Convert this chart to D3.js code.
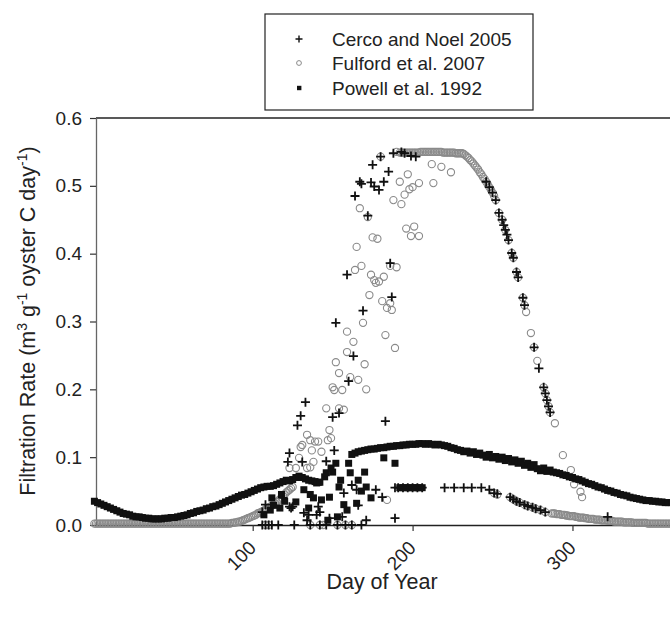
<!DOCTYPE html>
<html lang="en">
  <head>
    <meta charset="UTF-8" />
    <title>Filtration Rate</title>
    <style>
      body {
        margin: 0;
        overflow: hidden;
        background: #fff;
      }
      text {
        font-family: "Liberation Sans", Arial, sans-serif;
        fill: #222;
      }
      .tick text {
        font-size: 19px;
      }
    </style>
    <script src="https://unpkg.com/d3@7.8.1/dist/d3.min.js"></script>
  </head>
  <body>
    <script>
      const { select, scaleLinear, axisLeft, axisBottom, format } = d3;

//Data  [day of year, filtration rate]
      const seriesNames = ["Cerco and Noel 2005", "Fulford et al. 2007", "Powell et al. 1992"];

      const cercoPoints = [
        [106,.019],[106,0],[108,.030],[108,0],[110,0],[112,0],[116,0],[119,.040],[122,.093],[123,.106],
        [123,.027],[124,.025],[125,.027],[126,0],[128,.147],[130,.161],[131,.093],[132,.018],[133,.181],
        [134,.007],[135,.015],[136,0],[140,.015],[141,.027],[142,.019],[142,0],[146,.094],[146,0],[148,.010],
        [150,.159],[151,.110],[152,.298],[153,0],[154,.165],[156,.012],[157,.047],[158,0],[159,.369],
        [160,.212],[162,.059],[162,0],[163,.249],[164,.485],[165,.052],[166,.029],[167,.506],[168,.503],
        [168,0],[169,.316],[171,.007],[172,.456],[174,.505],[175,.531],[176,.499],[177,.052],[179,.494],
        [180,.543],[181,.041],[182,.506],[183,.153],[185,.521],[186,.386],[187,.336],[188,.548],[189,.010],
        [189,.055],[191,.055],[193,.550],[194,.055],[195,.548],[197,.055],[199,.544],[200,.055],[202,.543],
        [203,.055],[206,.055],[220,.055],[226,.055],[232,.055],[237,.055],[243,.055],
        [246,.506],[248,.498],[248,.052],[250,.490],[251,.047],[252,.479],[253,.046],[254,.460],[256,.450],
        [257,.442],[258,.435],[259,.428],[260,.420],[261,.041],[262,.401],[263,.394],[263,.038],[265,.373],
        [265,.035],[266,.365],[267,.033],[269,.335],[270,.324],[270,.030],[272,.028],[275,.026],[276,.262],
        [277,.024],[279,.231],[280,.022],[282,.203],[283,.194],[283,.019],[284,.184],[285,.175],[286,.166],
        [322,.012]
      ];

      const fulfordCurve = [
        [1,.002],[2,.002],[3,.002],[4,.002],[5,.002],[6,.002],[7,.002],[8,.002],[9,.002],[10,.002],
        [11,.002],[12,.002],[13,.002],[14,.002],[15,.002],[16,.002],[17,.002],[18,.002],[19,.002],[20,.002],
        [21,.002],[22,.002],[23,.002],[24,.002],[25,.002],[26,.002],[27,.002],[28,.002],[29,.002],[30,.002],
        [31,.002],[32,.002],[33,.002],[34,.002],[35,.002],[36,.002],[37,.002],[38,.002],[39,.002],[40,.002],
        [41,.002],[42,.002],[43,.002],[44,.002],[45,.002],[46,.002],[47,.002],[48,.002],[49,.002],[50,.002],
        [51,.002],[52,.002],[53,.002],[54,.002],[55,.002],[56,.002],[57,.002],[58,.002],[59,.002],[60,.002],
        [61,.002],[62,.002],[63,.002],[64,.002],[65,.002],[66,.002],[67,.002],[68,.002],[69,.002],[70,.002],
        [71,.002],[72,.002],[73,.002],[74,.002],[75,.002],[76,.002],[77,.002],[78,.002],[79,.002],[80,.002],
        [81,.002],[82,.002],[83,.002],[84,.002],[85,.002],[86,.002],[87,.003],[88,.003],[89,.004],[90,.004],
        [91,.005],[92,.005],[93,.006],[94,.007],[95,.008],[96,.009],[97,.010],[98,.011],[99,.012],[100,.013],
        [101,.014],[102,.015],[103,.017],[104,.018],[105,.019],[106,.020],[107,.021],[108,.023],[109,.024],
        [110,.026],[111,.027],[112,.029],[113,.030],[114,.032],[115,.034],[116,.036],[117,.038],[118,.040],
        [119,.043],[120,.045],[121,.048],[122,.050],[123,.052],[124,.054],[125,.056],
        [192,.549],[193,.549],[194,.549],[195,.549],[196,.549],[197,.549],[198,.549],[199,.549],[200,.549],
        [201,.549],[202,.549],[203,.549],[204,.549],[205,.550],[206,.550],[207,.550],[208,.550],[209,.550],
        [210,.550],[211,.550],[212,.550],[213,.550],[214,.550],[215,.550],[216,.550],[217,.550],[218,.550],
        [219,.549],[220,.549],[221,.549],[222,.549],[223,.549],[224,.549],[225,.549],[226,.549],[227,.548],
        [228,.548],[229,.548],[230,.548],[231,.548],[232,.547],[233,.545],[234,.543],[235,.541],[236,.538],
        [237,.536],[238,.533],[239,.530],[240,.527],[241,.524],[242,.520],[243,.517],[244,.513],[245,.510],
        [246,.506],[247,.502],[248,.498],[249,.494],[250,.490],[251,.485],[252,.479],[254,.460],[256,.450],
        [258,.435],[260,.420],[262,.401],[263,.394],[265,.373],[266,.365],[269,.335],[270,.324],[271,.314],
        [274,.283],[276,.262],[278,.242],[282,.203],[283,.194],[284,.184],[285,.175],[286,.166],[289,.150],
        [294,.103],[299,.081],[301,.060],[305,.049],[306,.041],
        [251,.047],[253,.045],[261,.041],[263,.038],[265,.035],[267,.033],[270,.030],[272,.028],[275,.026],
        [277,.024],[280,.022],[283,.019],
        [287,.017],[288,.017],[289,.017],[290,.016],[291,.016],[292,.016],[293,.015],[294,.015],[295,.015],
        [296,.014],[297,.014],[298,.013],[299,.013],[300,.013],[301,.013],[302,.012],[303,.012],[304,.011],
        [305,.011],[306,.011],[307,.011],[308,.010],[309,.010],[310,.009],[311,.009],[312,.009],[313,.009],
        [314,.008],[315,.008],[316,.008],[317,.008],[318,.007],[319,.007],[320,.007],[321,.007],[322,.006],
        [323,.006],[324,.006],[325,.006],[326,.005],[327,.005],[328,.005],[329,.005],[330,.005],[331,.005],
        [332,.004],[333,.004],[334,.004],[335,.004],[336,.004],[337,.004],[338,.003],[339,.003],[340,.003],
        [341,.003],[342,.003],[343,.003],[344,.003],[345,.003],[346,.003],[347,.002],[348,.002],[349,.002],
        [350,.002],[351,.002],[352,.002],[353,.002],[354,.002],[355,.002],[356,.002],[357,.002],[358,.002],
        [359,.002],[360,.002],[361,.002],[362,.002],[363,.002],[364,.002],[365,.002]
      ];

      const fulfordScatter = [
        [108,0],[110,0],[136,0],[142,0],[144,0],[153,0],[158,0],[162,0],
        [123,.084],[127,.084],[129,.099],[130,.115],[131,.118],[134,.133],[134,.084],[136,.085],[136,.125],
        [137,.110],[138,.093],[139,.123],[141,.123],[143,.108],[147,.125],[148,.140],[149,.128],
        [146,.172],[150,.203],[151,.199],[154,.172],[156,.199],[157,.170],[171,.200],
        [152,.240],[154,.224],[159,.255],[159,.285],[161,.218],[163,.270],[166,.214],[169,.298],[170,.237],
        [183,.280],[189,.261],
        [164,.376],[168,.382],[173,.339],[174,.369],[176,.361],[177,.357],[179,.359],[182,.366],[181,.330],
        [186,.327],[184,.320],[187,.317],[186,.382],[190,.380],
        [165,.410],[175,.424],[178,.422],[167,.467],[172,.454],[188,.479],[193,.473],[196,.437],[199,.426],
        [201,.440],[204,.426],
        [180,.543],[190,.550],[192,.506],[197,.517],[195,.487],[198,.495],[200,.498],[204,.504],
        [213,.504],[212,.532],[218,.528],[224,.520],[184,.037]
      ];

      const powellCurve = [
        [1,.035],[3,.033],[5,.031],[7,.029],[9,.027],[11,.025],[13,.023],[15,.021],[17,.019],[19,.017],
        [21,.016],[23,.015],[25,.013],[27,.012],[29,.012],[31,.011],[33,.010],[35,.010],[37,.009],[39,.009],
        [41,.009],[43,.009],[45,.010],[47,.010],[49,.011],[51,.011],[53,.012],[55,.013],[57,.014],[59,.015],
        [61,.017],[63,.018],[65,.020],[67,.021],[69,.022],[71,.024],[73,.025],[75,.027],[77,.028],[79,.030],
        [81,.032],[83,.034],[85,.036],[87,.038],[89,.040],[91,.042],[93,.044],[95,.045],[97,.047],[99,.049],
        [101,.051],[103,.053],[105,.055],[107,.056],[109,.057],[111,.057],[113,.058],[115,.060],[117,.062],
        [119,.064],[121,.066],[123,.065],[125,.067],[127,.070],[129,.072],[131,.070],[133,.068],[135,.066],
        [137,.065],[139,.064],[141,.063],
        [162,.104],[164,.106],[166,.108],[168,.109],[170,.110],[172,.111],[174,.112],[176,.112],[178,.113],
        [180,.114],[182,.114],[184,.115],[186,.116],[188,.116],[190,.117],[192,.117],[194,.118],[196,.118],
        [198,.119],[200,.119],[202,.119],[204,.120],[206,.120],[208,.119],[210,.120],[212,.119],[214,.118],
        [216,.119],[218,.118],[220,.117],[222,.116],[224,.114],[226,.113],[228,.111],[230,.110],[232,.108],
        [234,.109],[236,.106],[238,.108],[240,.104],[242,.106],[244,.103],[246,.100],[248,.104],[250,.099],
        [252,.101],[254,.097],[256,.100],[258,.095],[260,.098],[262,.093],[264,.096],[266,.091],[268,.094],
        [270,.088],[272,.091],[274,.085],[276,.089],[278,.083],[280,.080],[282,.084],[284,.079],[286,.081],
        [288,.078],[290,.077],[292,.076],[294,.074],[296,.073],[298,.071],[300,.070],[302,.068],[304,.067],
        [306,.065],[308,.063],[310,.061],[312,.060],[314,.058],[316,.056],[318,.055],[320,.053],[322,.051],
        [324,.050],[326,.048],[328,.047],[330,.045],[332,.044],[334,.043],[336,.041],[338,.040],[340,.039],
        [342,.038],[344,.037],[346,.036],[348,.036],[350,.035],[352,.035],[354,.034],[356,.034],[358,.033],
        [360,.033],[362,.033],[364,.033]
      ];

      const powellScatter = [
        [107,.015],[111,.022],[112,.040],[113,.029],[117,.025],[118,.045],[120,.035],[127,.034],[132,.052],
        [135,.025],[136,.045],[138,.040],[140,.062],[142,.063],[143,.037],[145,.071],[146,.077],[147,.007],
        [148,.041],[149,.084],[150,.078],[152,.091],[153,.012],[154,.056],[155,.066],[157,.030],[159,.022],
        [160,.091],[161,.077],[165,.032],[166,.066],[168,.050],[170,.078],[171,.056],[174,.040],[182,.099],
        [189,.091],[192,.055],[194,.055],[196,.055],[198,.055],[200,.055],[202,.055],[204,.055],[206,.055]
      ];

      const yTicks = [0, 0.1, 0.2, 0.3, 0.4, 0.5, 0.6];
      const xTicks = [100, 200, 300];

//Layout
      const width = 670;
      const height = 617;
      const frame = { left: 96, right: 678, top: 118, bottom: 525 };

      const svg = select("body")
        .append("svg")
        .attr("width", width)
        .attr("height", height);

      const x = scaleLinear().domain([2, 366]).range([frame.left, frame.right]);
      const y = scaleLinear().domain([0, 0.6]).range([frame.bottom, frame.top]);

      // top frame line
      svg.append("line")
        .attr("x1", frame.left).attr("x2", frame.right)
        .attr("y1", frame.top).attr("y2", frame.top)
        .attr("stroke", "#222").attr("stroke-width", 1.3);

      const yAxis = svg.append("g")
        .attr("transform", `translate(${frame.left},0)`)
        .call(axisLeft(y).tickValues(yTicks).tickFormat(format(".1f")).tickSize(6).tickSizeOuter(0).tickPadding(8));
      yAxis.select(".domain").attr("stroke", "#666").attr("stroke-width", 1.3);
      yAxis.selectAll(".tick line").attr("stroke", "#333").attr("stroke-width", 1.2);

      const xAxis = svg.append("g")
        .attr("transform", `translate(0,${frame.bottom})`)
        .call(axisBottom(x).tickValues(xTicks).tickSize(6).tickSizeOuter(0));
      xAxis.select(".domain").attr("stroke", "#222").attr("stroke-width", 1.3);
      xAxis.selectAll(".tick line").attr("stroke", "#333").attr("stroke-width", 1.2);
      xAxis.selectAll(".tick text")
        .attr("y", null).attr("dy", null)
        .attr("text-anchor", "end")
        .attr("transform", "translate(4,24) rotate(-45)");

//Marks
      const fulford = fulfordCurve.concat(fulfordScatter);
      const powell = powellCurve.concat(powellScatter);

      svg.append("g").selectAll("circle")
        .data(fulford)
        .join("circle")
        .attr("cx", d => x(d[0]))
        .attr("cy", d => y(d[1]))
        .attr("r", 3.6)
        .attr("fill", "none")
        .attr("stroke", "#8a8a8a")
        .attr("stroke-width", 1.1);

      const sq = 7;
      svg.append("g").selectAll("rect")
        .data(powell)
        .join("rect")
        .attr("x", d => x(d[0]) - sq / 2)
        .attr("y", d => y(d[1]) - sq / 2)
        .attr("width", sq)
        .attr("height", sq)
        .attr("fill", "#111");

      const plus = 4.5;
      svg.append("g").selectAll("path")
        .data(cercoPoints)
        .join("path")
        .attr("d", d => {
          const cx = x(d[0]), cy = y(d[1]);
          return `M${cx - plus},${cy}H${cx + plus}M${cx},${cy - plus}V${cy + plus}`;
        })
        .attr("stroke", "#111")
        .attr("stroke-width", 1.8);

//Titles
      svg.append("text")
        .attr("x", 382).attr("y", 589)
        .attr("text-anchor", "middle")
        .attr("font-size", 21.5)
        .text("Day of Year");

      const yTitle = svg.append("text")
        .attr("transform", "translate(35,321) rotate(-90)")
        .attr("text-anchor", "middle")
        .attr("font-size", 21.5);
      yTitle.append("tspan").text("Filtration Rate (m");
      yTitle.append("tspan").attr("font-size", 14).attr("dy", -8).text("3");
      yTitle.append("tspan").attr("dy", 8).text(" g");
      yTitle.append("tspan").attr("font-size", 14).attr("dy", -8).text("-1");
      yTitle.append("tspan").attr("dy", 8).text(" oyster C day");
      yTitle.append("tspan").attr("font-size", 14).attr("dy", -8).text("-1");
      yTitle.append("tspan").attr("dy", 8).text(")");

//Legend
      const legend = svg.append("g");
      legend.append("rect")
        .attr("x", 265).attr("y", 14)
        .attr("width", 268).attr("height", 96)
        .attr("fill", "#fff")
        .attr("stroke", "#222")
        .attr("stroke-width", 1.2);

      const rows = [39, 63, 88];
      seriesNames.forEach((name, i) => {
        legend.append("text")
          .attr("x", 332).attr("y", rows[i] + 7)
          .attr("font-size", 19)
          .text(name);
      });
      legend.append("path")
        .attr("d", `M295.5,${rows[0]}H302.5M299,${rows[0] - 3.5}V${rows[0] + 3.5}`)
        .attr("stroke", "#111").attr("stroke-width", 1.4);
      legend.append("circle")
        .attr("cx", 299).attr("cy", rows[1]).attr("r", 2.4)
        .attr("fill", "none").attr("stroke", "#8a8a8a").attr("stroke-width", 1);
      legend.append("rect")
        .attr("x", 297).attr("y", rows[2] - 2.2).attr("width", 4.4).attr("height", 4.4)
        .attr("fill", "#111");
    </script>
  </body>
</html>
